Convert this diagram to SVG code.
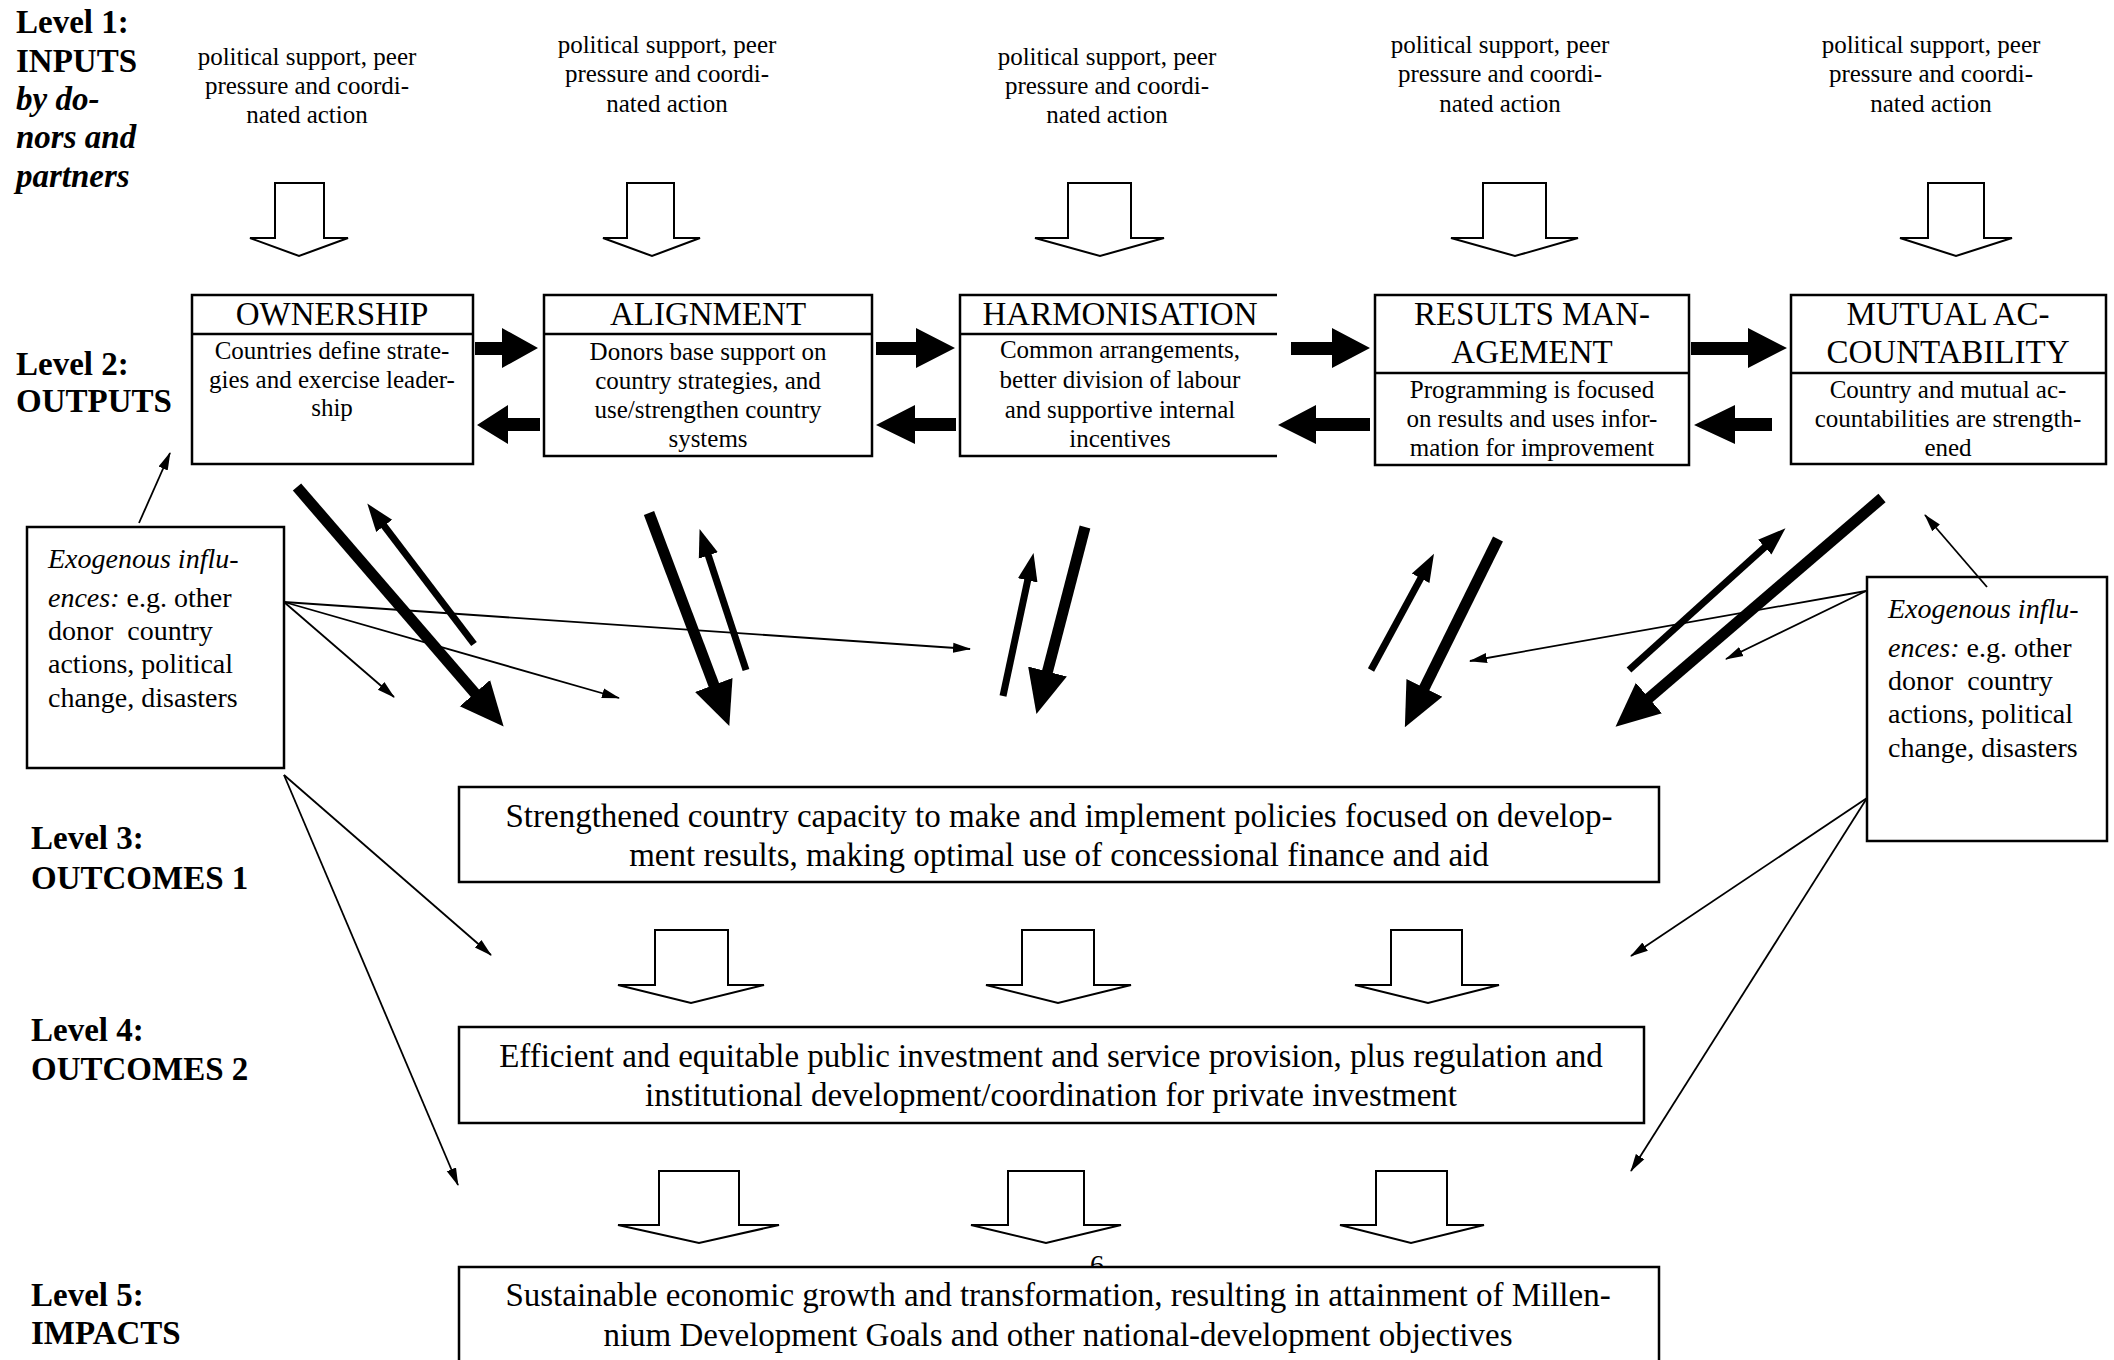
<svg xmlns="http://www.w3.org/2000/svg" width="2114" height="1360" viewBox="0 0 2114 1360">
<style>
text { font-family: "Liberation Serif", "Times New Roman", serif; fill: #000; }
.small { font-size: 25px; text-anchor: middle; }
.title { font-size: 33px; text-anchor: middle; }
.lbl { font-size: 33px; font-weight: bold; }
.lbli { font-size: 33px; font-weight: bold; font-style: italic; }
.big { font-size: 33px; text-anchor: middle; }
.exo { font-size: 28px; }
.it { font-style: italic; }
.box { fill: #fff; stroke: #000; stroke-width: 2.5; }
.bline { fill: none; stroke: #000; stroke-width: 2.5; }
.hollow { fill: #fff; stroke: #000; stroke-width: 2; }
.blk { fill: #000; stroke: none; }
.thick { stroke: #000; stroke-width: 11; fill: none; marker-end: url(#headThick); }
.mid { stroke: #000; stroke-width: 7; fill: none; marker-end: url(#headMid); }
.thin { stroke: #000; stroke-width: 1.8; fill: none; marker-end: url(#headThin); }
</style>
<defs>
<marker id="headThick" markerUnits="userSpaceOnUse" viewBox="0 -22 46 44" refX="2" refY="0" markerWidth="46" markerHeight="44" orient="auto">
<path d="M0,-20 L44,0 L0,20 Z" fill="#000"/>
</marker>
<marker id="headMid" markerUnits="userSpaceOnUse" viewBox="0 -12 30 24" refX="2" refY="0" markerWidth="30" markerHeight="24" orient="auto">
<path d="M0,-10 L28,0 L0,10 Z" fill="#000"/>
</marker>
<marker id="headThin" markerUnits="userSpaceOnUse" viewBox="0 -6 18 12" refX="17" refY="0" markerWidth="18" markerHeight="12" orient="auto">
<path d="M0,-5 L18,0 L0,5 Z" fill="#000"/>
</marker>
</defs>
<rect x="0" y="0" width="2114" height="1360" fill="#fff"/>

<g id="level-labels">
<text class="lbl" x="16" y="33">Level 1:</text>
<text class="lbl" x="16" y="72">INPUTS</text>
<text class="lbli" x="16" y="110">by do-</text>
<text class="lbli" x="16" y="148">nors and</text>
<text class="lbli" x="16" y="187">partners</text>
<text class="lbl" x="16" y="375">Level 2:</text>
<text class="lbl" x="16" y="412">OUTPUTS</text>
<text class="lbl" x="31" y="849">Level 3:</text>
<text class="lbl" x="31" y="889">OUTCOMES 1</text>
<text class="lbl" x="31" y="1041">Level 4:</text>
<text class="lbl" x="31" y="1080">OUTCOMES 2</text>
<text class="lbl" x="31" y="1306">Level 5:</text>
<text class="lbl" x="31" y="1344">IMPACTS</text>
</g>

<g id="inputs">
<text class="small" x="307" y="65">political support, peer</text>
<text class="small" x="307" y="94">pressure and coordi-</text>
<text class="small" x="307" y="123">nated action</text>
<text class="small" x="667" y="53">political support, peer</text>
<text class="small" x="667" y="82">pressure and coordi-</text>
<text class="small" x="667" y="112">nated action</text>
<text class="small" x="1107" y="65">political support, peer</text>
<text class="small" x="1107" y="94">pressure and coordi-</text>
<text class="small" x="1107" y="123">nated action</text>
<text class="small" x="1500" y="53">political support, peer</text>
<text class="small" x="1500" y="82">pressure and coordi-</text>
<text class="small" x="1500" y="112">nated action</text>
<text class="small" x="1931" y="53">political support, peer</text>
<text class="small" x="1931" y="82">pressure and coordi-</text>
<text class="small" x="1931" y="112">nated action</text>
</g>

<g id="input-arrows">
<path class="hollow" d="M275,183 L324,183 L324,238 L348,238 L299,256 L250,238 L275,238 Z"/>
<path class="hollow" d="M627,183 L674,183 L674,238 L700,238 L652,256 L603,238 L627,238 Z"/>
<path class="hollow" d="M1068,183 L1131,183 L1131,238 L1164,238 L1100,256 L1035,238 L1068,238 Z"/>
<path class="hollow" d="M1483,183 L1546,183 L1546,238 L1578,238 L1515,256 L1451,238 L1483,238 Z"/>
<path class="hollow" d="M1928,183 L1984,183 L1984,238 L2012,238 L1956,256 L1900,238 L1928,238 Z"/>
</g>

<g id="ownership">
<rect class="box" x="192" y="295" width="281" height="169"/>
<line class="bline" x1="192" y1="334" x2="473" y2="334"/>
<text class="title" x="332" y="325">OWNERSHIP</text>
<text class="small" x="332" y="359">Countries define strate-</text>
<text class="small" x="332" y="388">gies and exercise leader-</text>
<text class="small" x="332" y="416">ship</text>
</g>

<g id="alignment">
<rect class="box" x="544" y="295" width="328" height="161"/>
<line class="bline" x1="544" y1="334" x2="872" y2="334"/>
<text class="title" x="708" y="325">ALIGNMENT</text>
<text class="small" x="708" y="360">Donors base support on</text>
<text class="small" x="708" y="389">country strategies, and</text>
<text class="small" x="708" y="418">use/strengthen country</text>
<text class="small" x="708" y="447">systems</text>
</g>

<g id="harmonisation">
<path class="bline" d="M1277,295 L960,295 L960,456 L1277,456"/>
<line class="bline" x1="960" y1="334" x2="1277" y2="334"/>
<text class="title" x="1120" y="325">HARMONISATION</text>
<text class="small" x="1120" y="358">Common arrangements,</text>
<text class="small" x="1120" y="388">better division of labour</text>
<text class="small" x="1120" y="418">and supportive internal</text>
<text class="small" x="1120" y="447">incentives</text>
</g>

<g id="results-management">
<rect class="box" x="1375" y="295" width="314" height="170"/>
<line class="bline" x1="1375" y1="373" x2="1689" y2="373"/>
<text class="title" x="1532" y="325">RESULTS MAN-</text>
<text class="title" x="1532" y="363">AGEMENT</text>
<text class="small" x="1532" y="398">Programming is focused</text>
<text class="small" x="1532" y="427">on results and uses infor-</text>
<text class="small" x="1532" y="456">mation for improvement</text>
</g>

<g id="mutual-accountability">
<rect class="box" x="1791" y="295" width="315" height="169"/>
<line class="bline" x1="1791" y1="373" x2="2106" y2="373"/>
<text class="title" x="1948" y="325">MUTUAL AC-</text>
<text class="title" x="1948" y="363">COUNTABILITY</text>
<text class="small" x="1948" y="398">Country and mutual ac-</text>
<text class="small" x="1948" y="427">countabilities are strength-</text>
<text class="small" x="1948" y="456">ened</text>
</g>

<g id="exo-left">
<rect class="box" x="27" y="527" width="257" height="241" stroke-width="2"/>
<text class="exo" x="48" y="568"><tspan class="it">Exogenous influ-</tspan></text>
<text class="exo" x="48" y="607"><tspan class="it">ences:</tspan> e.g. other</text>
<text class="exo" x="48" y="640">donor&#160; country</text>
<text class="exo" x="48" y="673">actions, political</text>
<text class="exo" x="48" y="707">change, disasters</text>
</g>

<g id="exo-right">
<rect class="box" x="1867" y="577" width="240" height="264" stroke-width="2"/>
<text class="exo" x="1888" y="618"><tspan class="it">Exogenous influ-</tspan></text>
<text class="exo" x="1888" y="657"><tspan class="it">ences:</tspan> e.g. other</text>
<text class="exo" x="1888" y="690">donor&#160; country</text>
<text class="exo" x="1888" y="723">actions, political</text>
<text class="exo" x="1888" y="757">change, disasters</text>
</g>

<text x="1097" y="1274" font-size="28" text-anchor="middle">6</text>

<g id="outcomes1">
<rect class="box" x="459" y="787" width="1200" height="95" stroke-width="2"/>
<text class="big" x="1059" y="827">Strengthened country capacity to make and implement policies focused on develop-</text>
<text class="big" x="1059" y="866">ment results, making optimal use of concessional finance and aid</text>
</g>

<g id="outcomes2">
<rect class="box" x="459" y="1027" width="1185" height="96" stroke-width="2"/>
<text class="big" x="1051" y="1067">Efficient and equitable public investment and service provision, plus regulation and</text>
<text class="big" x="1051" y="1106">institutional development/coordination for private investment</text>
</g>

<g id="impacts">
<rect class="box" x="459" y="1267" width="1200" height="120" stroke-width="2"/>
<text class="big" x="1058" y="1306">Sustainable economic growth and transformation, resulting in attainment of Millen-</text>
<text class="big" x="1058" y="1346">nium Development Goals and other national-development objectives</text>
</g>

<g id="connectors">
<path class="blk" d="M475,342 L502,342 L502,328 L538,348 L502,368 L502,355 L475,355 Z"/>
<path class="blk" d="M876,342 L916,342 L916,328 L955,348 L916,368 L916,355 L876,355 Z"/>
<path class="blk" d="M1291,342 L1332,342 L1332,328 L1370,348 L1332,368 L1332,355 L1291,355 Z"/>
<path class="blk" d="M1691,342 L1748,342 L1748,328 L1787,348 L1748,368 L1748,355 L1691,355 Z"/>
<path class="blk" d="M540,418 L508,418 L508,405 L477,425 L508,444 L508,431 L540,431 Z"/>
<path class="blk" d="M956,418 L915,418 L915,405 L876,425 L915,444 L915,431 L956,431 Z"/>
<path class="blk" d="M1370,418 L1316,418 L1316,405 L1278,425 L1316,444 L1316,431 L1370,431 Z"/>
<path class="blk" d="M1772,418 L1735,418 L1735,405 L1694,425 L1735,444 L1735,431 L1772,431 Z"/>

<line class="thick" x1="297" y1="487" x2="476.2" y2="694.7"/>
<line class="thick" x1="649" y1="513" x2="714.5" y2="686.8"/>
<line class="thick" x1="1085" y1="527" x2="1047" y2="673.4"/>
<line class="thick" x1="1498" y1="539" x2="1423.5" y2="689.6"/>
<line class="thick" x1="1882" y1="498" x2="1647.4" y2="699.3"/>
<line class="mid" x1="474" y1="644" x2="383" y2="524.3"/>
<line class="mid" x1="746" y1="670" x2="707.7" y2="553.6"/>
<line class="mid" x1="1003" y1="696" x2="1028.1" y2="578.4"/>
<line class="mid" x1="1371" y1="670" x2="1421.6" y2="576.6"/>
<line class="mid" x1="1629" y1="670" x2="1766.2" y2="545.8"/>

<line class="thin" x1="139" y1="523" x2="170" y2="453"/>
<line class="thin" x1="284" y1="602" x2="394" y2="697"/>
<line class="thin" x1="284" y1="602" x2="619" y2="698"/>
<line class="thin" x1="284" y1="602" x2="970" y2="649"/>
<line class="thin" x1="284" y1="775" x2="491" y2="955"/>
<line class="thin" x1="284" y1="775" x2="458" y2="1185"/>
<line class="thin" x1="1987" y1="587" x2="1925" y2="515"/>
<line class="thin" x1="1866" y1="591" x2="1470" y2="661"/>
<line class="thin" x1="1866" y1="591" x2="1726" y2="659"/>
<line class="thin" x1="1867" y1="798" x2="1631" y2="956"/>
<line class="thin" x1="1867" y1="798" x2="1631" y2="1171"/>

<path class="hollow" d="M655,930 L728,930 L728,985 L764,985 L691,1003 L618,985 L655,985 Z"/>
<path class="hollow" d="M1022,930 L1094,930 L1094,985 L1131,985 L1058,1003 L986,985 L1022,985 Z"/>
<path class="hollow" d="M1391,930 L1462,930 L1462,985 L1499,985 L1428,1003 L1355,985 L1391,985 Z"/>
<path class="hollow" d="M659,1171 L739,1171 L739,1225 L779,1225 L699,1243 L618,1225 L659,1225 Z"/>
<path class="hollow" d="M1008,1171 L1084,1171 L1084,1225 L1121,1225 L1046,1243 L971,1225 L1008,1225 Z"/>
<path class="hollow" d="M1376,1171 L1447,1171 L1447,1225 L1484,1225 L1411,1243 L1340,1225 L1376,1225 Z"/>
</g>
</svg>
